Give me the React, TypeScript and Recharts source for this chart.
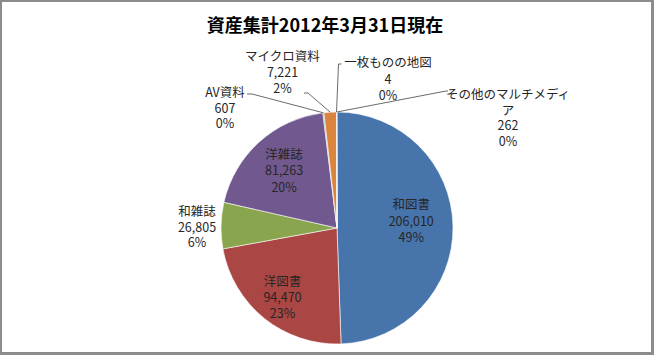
import React from 'react';
import { PieChart, Pie, Cell } from 'recharts';

const titleText = '資産集計2012年3月31日現在';
const categories = ['和図書', '洋図書', '和雑誌', '洋雑誌', 'AV資料', 'マイクロ資料', '一枚ものの地図', 'その他のマルチメディア'];
const counts = [206010, 94470, 26805, 81263, 607, 7221, 4, 262];
const sliceColors = ['#4674AB', '#AA4643', '#89A54E', '#71588F', '#4198AF', '#DB843D', '#93A9CF', '#D19392'];

const data = categories.map((name, i) => ({ name, value: counts[i] }));
const total = counts.reduce((a, b) => a + b, 0);

type LabelLayout =
  | { kind: 'in'; r: number; dy: number; spacing: number }
  | { kind: 'out'; dx: number; dy: number; spacing: number; leader?: [number, number][]; wrap?: number };

// label placement (relative to pie centre), styling only
const labelLayouts: LabelLayout[] = [
  { kind: 'in', r: 0.64, dy: -7, spacing: 16.5 },
  { kind: 'in', r: 0.75, dy: 0, spacing: 16 },
  { kind: 'out', dx: -140, dy: -18, spacing: 15.5 },
  { kind: 'in', r: 0.68, dy: 0, spacing: 16.5 },
  { kind: 'out', dx: -112, dy: -137, spacing: 15.5, leader: [[-85, -134], [-90, -134]] },
  { kind: 'out', dx: -54.5, dy: -173, spacing: 16, leader: [[-29, -135], [-33, -135]] },
  { kind: 'out', dx: 51, dy: -167, spacing: 16.5, leader: [[1.5, -164], [4.5, -164]] },
  { kind: 'out', dx: 171, dy: -135, spacing: 15.5, wrap: 10, leader: [[109, -137], [111, -137]] },
];

const RAD = Math.PI / 180;

const renderLabel = (props: any) => {
  const { cx, cy, midAngle, outerRadius, index, name, value } = props;
  const lay = labelLayouts[index];
  const pct = Math.round((value / total) * 100) + '%';
  const numStr = Number(value).toLocaleString('en-US');
  let lines: string[] = [name, numStr, pct];
  if (lay.kind === 'out' && lay.wrap && name.length > lay.wrap) {
    lines = [name.slice(0, lay.wrap), name.slice(lay.wrap), numStr, pct];
  }
  let x: number;
  let y0: number;
  let leaderEl: React.ReactNode = null;
  if (lay.kind === 'in') {
    const r = outerRadius * lay.r;
    x = cx + r * Math.cos(-midAngle * RAD);
    const ym = cy + r * Math.sin(-midAngle * RAD) + lay.dy;
    y0 = ym - (lay.spacing * (lines.length - 1)) / 2;
  } else {
    x = cx + lay.dx;
    y0 = cy + lay.dy;
    if (lay.leader) {
      const sx = cx + outerRadius * Math.cos(-midAngle * RAD);
      const sy = cy + outerRadius * Math.sin(-midAngle * RAD);
      const pts = [[sx, sy], ...lay.leader.map(([dx, dy]) => [cx + dx, cy + dy])];
      leaderEl = (
        <polyline
          points={pts.map((p) => p.join(',')).join(' ')}
          fill="none"
          stroke="#6b6b6b"
          strokeWidth={1}
        />
      );
    }
  }
  return (
    <g key={`lbl-${index}`}>
      {leaderEl}
      <text
        x={x}
        y={y0}
        textAnchor="middle"
        dominantBaseline="central"
        fontSize={12.5}
        fontFamily='"Noto Sans CJK JP", "Noto Sans", sans-serif'
        fill="#262626"
      >
        {lines.map((t, i) => (
          <tspan key={i} x={x} y={y0 + i * lay.spacing}>
            {t}
          </tspan>
        ))}
      </text>
    </g>
  );
};

export default function App() {
  return (
    <div style={{ position: 'absolute', left: 0, top: 0, width: 654, height: 355, background: '#fff' }}>
      <div
        style={{
          position: 'absolute',
          left: 0,
          top: 0,
          width: 654,
          height: 355,
          boxSizing: 'border-box',
          borderLeft: '2px solid #8c8c8c',
          borderTop: '2px solid #8c8c8c',
          borderRight: '3px solid #8c8c8c',
          borderBottom: '3px solid #8c8c8c',
        }}
      />
      <div
        style={{
          position: 'absolute',
          left: 0,
          top: 11,
          width: 650,
          textAlign: 'center',
          fontFamily: '"Noto Sans CJK JP", sans-serif',
          fontWeight: 700,
          fontSize: 18,
          lineHeight: '26px',
          color: '#000',
        }}
      >
        {titleText}
      </div>
      <div style={{ position: 'absolute', left: 0, top: 0 }}>
        <PieChart width={654} height={355} margin={{ top: 0, right: 0, bottom: 0, left: 0 }}>
          <Pie
            data={data}
            dataKey="value"
            nameKey="name"
            cx={337}
            cy={228}
            outerRadius={116}
            startAngle={90}
            endAngle={-270}
            stroke="#ffffff"
            strokeWidth={0.6}
            label={renderLabel}
            labelLine={false}
            isAnimationActive={false}
          >
            {data.map((d, i) => (
              <Cell key={d.name} fill={sliceColors[i]} />
            ))}
          </Pie>
        </PieChart>
      </div>
    </div>
  );
}
